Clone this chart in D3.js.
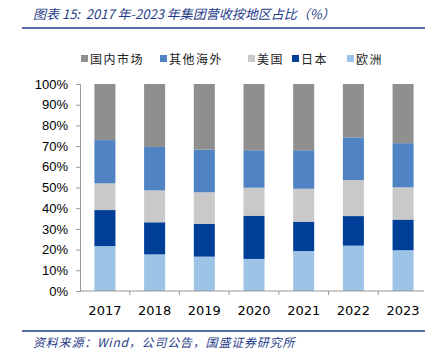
<!DOCTYPE html>
<html>
<head>
<meta charset="utf-8">
<style>
  body { margin: 0; background: #fff; }
  svg { display: block; font-family: "DejaVu Sans", Verdana, sans-serif; }
</style>
</head>
<body>
<svg id="chart" width="433" height="354"></svg>
<script src="https://cdn.jsdelivr.net/npm/d3@7"></script>
<script>
// data (percent of revenue)
const years = ["2017", "2018", "2019", "2020", "2021", "2022", "2023"]
const europe   = [21.7, 17.7, 16.6, 15.5, 19.3, 21.9, 19.7]
const japan    = [17.4, 15.5, 15.8, 20.9, 14.2, 14.3, 14.8]
const usa      = [12.9, 15.4, 15.3, 13.5, 15.9, 17.4, 15.6]
const overseas = [20.9, 21.0, 20.6, 18.1, 18.6, 20.6, 21.3]
const domestic = [27.1, 30.4, 31.7, 32.0, 32.0, 25.8, 28.6]
const yTicks = [0, 10, 20, 30, 40, 50, 60, 70, 80, 90, 100]

// stacking order bottom -> top
const series = [
  { key: "欧洲", values: europe, color: "#9dc3e6" },
  { key: "日本", values: japan, color: "#003f97" },
  { key: "美国", values: usa, color: "#c9c9c9" },
  { key: "其他海外", values: overseas, color: "#4f83c4" },
  { key: "国内市场", values: domestic, color: "#8f8f8f" }
]
const legendOrder = ["国内市场", "其他海外", "美国", "日本", "欧洲"]

const table = years.map((y, i) => {
  let row = { year: y }
  series.forEach(s => row[s.key] = s.values[i])
  return row
})

const svg = d3.select("#chart")
const x0 = 80, x1 = 428, yTop = 84, yBot = 291

const x = d3.scaleBand().domain(years).range([x0, x1]).paddingInner(0.577).paddingOuter(0.29)
const y = d3.scaleLinear().domain([0, 100]).range([yBot, yTop])

const stack = d3.stack().keys(series.map(s => s.key))(table)
const colorOf = d3.scaleOrdinal().domain(series.map(s => s.key)).range(series.map(s => s.color))

svg.append("g").selectAll("g")
  .data(stack)
  .join("g")
  .attr("fill", d => colorOf(d.key))
  .selectAll("rect")
  .data(d => d)
  .join("rect")
  .attr("x", d => x(d.data.year))
  .attr("width", x.bandwidth())
  .attr("y", d => y(d[1]))
  .attr("height", d => y(d[0]) - y(d[1]))

// y axis
const yAxis = d3.axisLeft(y).tickValues(yTicks).tickFormat(d => d + "%").tickSize(4).tickSizeOuter(4).tickPadding(8)
const gy = svg.append("g").attr("transform", `translate(${x0},0)`).call(yAxis)
gy.selectAll("path, line").attr("stroke", "#999")
gy.selectAll("text").attr("font-size", 13).attr("fill", "#000")

// x axis with ticks between categories
const gx = svg.append("g").attr("transform", `translate(0,${yBot})`)
gx.append("line").attr("x1", x0).attr("x2", x1 - 4).attr("stroke", "#999")
const step = x.step()
const bounds = d3.range(1, years.length).map(i => x(years[i]) - step * x.paddingInner() / 2)
gx.selectAll("line.tk").data(bounds).join("line").attr("class", "tk")
  .attr("x1", d => d).attr("x2", d => d).attr("y1", 0).attr("y2", 4).attr("stroke", "#999")
gx.selectAll("text").data(years).join("text")
  .attr("x", d => x(d) + x.bandwidth() / 2)
  .attr("y", 24)
  .attr("text-anchor", "middle")
  .attr("font-size", 13)
  .text(d => d)

// legend
const legendX = [81, 160, 248, 292, 347]
const lg = svg.append("g")
legendOrder.forEach((k, i) => {
  lg.append("rect").attr("x", legendX[i]).attr("y", 55).attr("width", 7).attr("height", 7).attr("fill", colorOf(k))
  lg.append("text").attr("x", legendX[i] + 9).attr("y", 63.5)
    .attr("font-family", "'Noto Sans CJK SC', sans-serif").attr("font-size", 12).attr("fill", "#222")
    .attr("letter-spacing", 1.5)
    .text(k)
})

// title, rules and source
svg.append("text").attr("x", 33).attr("y", 19)
  .attr("font-family", "'Noto Sans CJK SC', sans-serif").attr("font-style", "italic")
  .attr("font-size", 13).attr("fill", "#1f3c88")
  .text("图表 15:\u00a0 2017 年-2023 年集团营收按地区占比（%）")
svg.append("line").attr("x1", 22).attr("x2", 425).attr("y1", 28).attr("y2", 28).attr("stroke", "#1f3c88").attr("stroke-width", 1.5)
svg.append("line").attr("x1", 22).attr("x2", 425).attr("y1", 331).attr("y2", 331).attr("stroke", "#1f3c88").attr("stroke-width", 1.5)
svg.append("text").attr("x", 33).attr("y", 347)
  .attr("font-family", "'Noto Sans CJK SC', sans-serif").attr("font-style", "italic")
  .attr("font-size", 12).attr("fill", "#1f3c88").attr("letter-spacing", 0.8)
  .text("资料来源：Wind，公司公告，国盛证券研究所")
</script>
</body>
</html>
